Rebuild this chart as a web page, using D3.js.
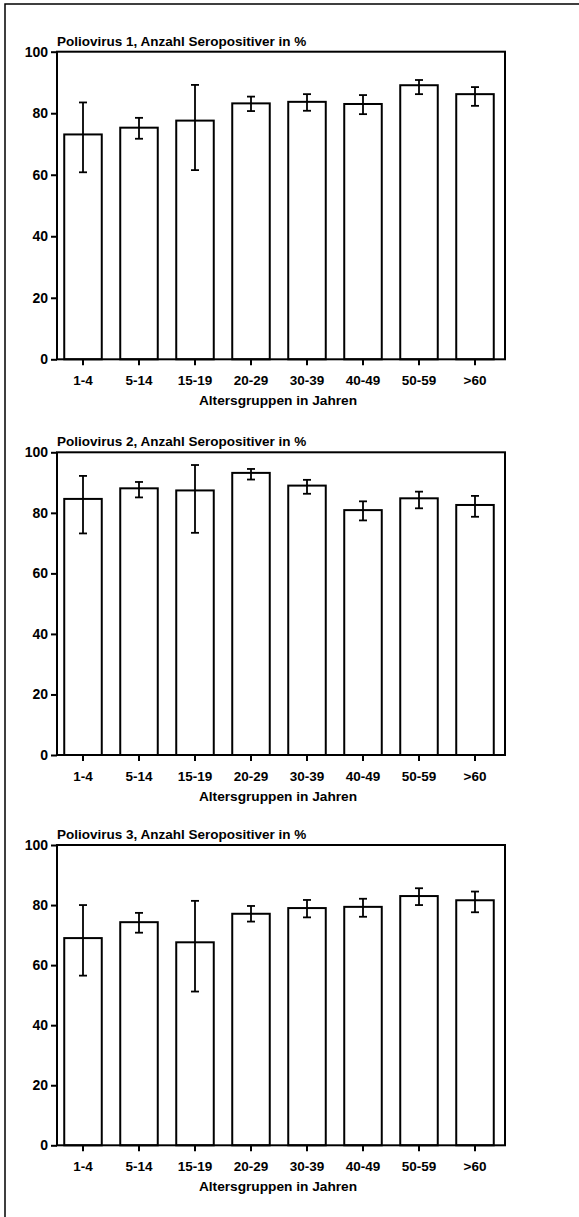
<!DOCTYPE html>
<html><head><meta charset="utf-8">
<script src="https://cdn.jsdelivr.net/npm/d3@7"></script>
<style>
html,body{margin:0;padding:0;background:#fff;}
svg{display:block;}
text{font-family:"Liberation Sans",Arial,sans-serif;font-weight:bold;fill:#000;}
</style></head><body>
<svg id="c" width="579" height="1217"></svg>
<script>
const categories = ["1-4","5-14","15-19","20-29","30-39","40-49","50-59",">60"];
const yTicks = [0,20,40,60,80,100];
const xTitle = "Altersgruppen in Jahren";

const titles = [
  "Poliovirus 1, Anzahl Seropositiver in %",
  "Poliovirus 2, Anzahl Seropositiver in %",
  "Poliovirus 3, Anzahl Seropositiver in %"
];
const polio1 = [73.1, 75.3, 77.6, 83.2, 83.7, 83.0, 89.1, 86.2];
const polio1Low = [60.8, 71.7, 61.5, 80.7, 80.8, 79.7, 86.2, 82.4];
const polio1High = [83.5, 78.5, 89.2, 85.4, 86.2, 85.9, 90.8, 88.5];

const polio2 = [84.6, 88.1, 87.4, 93.2, 89.0, 80.9, 84.8, 82.6];
const polio2Low = [73.2, 85.1, 73.4, 91.0, 86.3, 77.5, 81.5, 78.7];
const polio2High = [92.2, 90.2, 95.8, 94.5, 90.9, 83.8, 87.0, 85.6];

const polio3 = [69.0, 74.3, 67.6, 77.1, 79.0, 79.4, 83.0, 81.6];
const polio3Low = [56.5, 70.8, 51.2, 74.5, 75.9, 76.1, 80.0, 77.6];
const polio3High = [80.0, 77.4, 81.4, 79.7, 81.7, 82.1, 85.6, 84.5];

const seriesValues = [polio1, polio2, polio3];
const seriesLow = [polio1Low, polio2Low, polio3Low];
const seriesHigh = [polio1High, polio2High, polio3High];

// layout (pixel geometry, separate from data)
const panels = [
  {top: 51.7, bottom: 359.3},
  {top: 452.3, bottom: 755},
  {top: 845, bottom: 1145.3}
];
const frameL = 57, frameR = 505;

const svg = d3.select("#c");
svg.append("rect").attr("width",579).attr("height",1217).attr("fill","#fff");
// outer border
svg.append("path").attr("d","M5,1217 L5,4 L579,4").attr("fill","none").attr("stroke","#000").attr("stroke-width",1.5);

const x = d3.scaleBand().domain(categories).range([55,503]).paddingInner(0.33).paddingOuter(0.165);

panels.forEach((p, k) => {
  const y = d3.scaleLinear().domain([0,100]).range([p.bottom, p.top]);
  const g = svg.append("g");
  const vals = seriesValues[k], lo = seriesLow[k], hi = seriesHigh[k];

  // title
  g.append("text").attr("x", frameL).attr("y", p.top - 6)
    .attr("font-size", 13.5).text(titles[k]);

  // bars
  g.selectAll("rect.bar").data(categories).enter().append("rect")
    .attr("class","bar")
    .attr("x", d => x(d)).attr("width", x.bandwidth())
    .attr("y", (d,i) => y(vals[i])).attr("height", (d,i) => y(0) - y(vals[i]))
    .attr("fill","#fff").attr("stroke","#000").attr("stroke-width",2);

  // error bars
  const cap = 4;
  const eb = g.selectAll("g.eb").data(categories).enter().append("g").attr("class","eb");
  const cx = d => x(d) + x.bandwidth()/2;
  eb.append("line")
    .attr("x1", cx).attr("x2", cx)
    .attr("y1", (d,i) => y(lo[i])).attr("y2", (d,i) => y(hi[i]))
    .attr("stroke","#000").attr("stroke-width",1.8);
  eb.append("line")
    .attr("x1", d => cx(d) - cap).attr("x2", d => cx(d) + cap)
    .attr("y1", (d,i) => y(lo[i])).attr("y2", (d,i) => y(lo[i]))
    .attr("stroke","#000").attr("stroke-width",1.8);
  eb.append("line")
    .attr("x1", d => cx(d) - cap).attr("x2", d => cx(d) + cap)
    .attr("y1", (d,i) => y(hi[i])).attr("y2", (d,i) => y(hi[i]))
    .attr("stroke","#000").attr("stroke-width",1.8);

  // frame
  g.append("rect").attr("x", frameL).attr("y", p.top)
    .attr("width", frameR - frameL).attr("height", p.bottom - p.top)
    .attr("fill","none").attr("stroke","#000").attr("stroke-width",2);

  // y axis
  const ya = g.append("g").attr("transform",`translate(${frameL},0)`)
    .call(d3.axisLeft(y).tickValues(yTicks).tickSize(6).tickPadding(3).tickSizeOuter(0));
  ya.select(".domain").remove();
  ya.selectAll("line").attr("stroke","#000").attr("stroke-width",2);
  ya.selectAll("text").attr("font-size",14).attr("font-family","Liberation Sans, Arial, sans-serif").attr("font-weight","bold");

  // x axis
  const xa = g.append("g").attr("transform",`translate(0,${p.bottom})`)
    .call(d3.axisBottom(x).tickSize(6).tickPadding(10).tickSizeOuter(0));
  xa.select(".domain").remove();
  xa.selectAll("line").attr("stroke","#000").attr("stroke-width",2);
  xa.selectAll("text").attr("font-size",13.5).attr("font-family","Liberation Sans, Arial, sans-serif").attr("font-weight","bold");

  // x title
  g.append("text").attr("x", (frameL + frameR)/2 - 3).attr("y", p.bottom + 46)
    .attr("text-anchor","middle").attr("font-size",13.7).text(xTitle);
});
</script>
</body></html>
